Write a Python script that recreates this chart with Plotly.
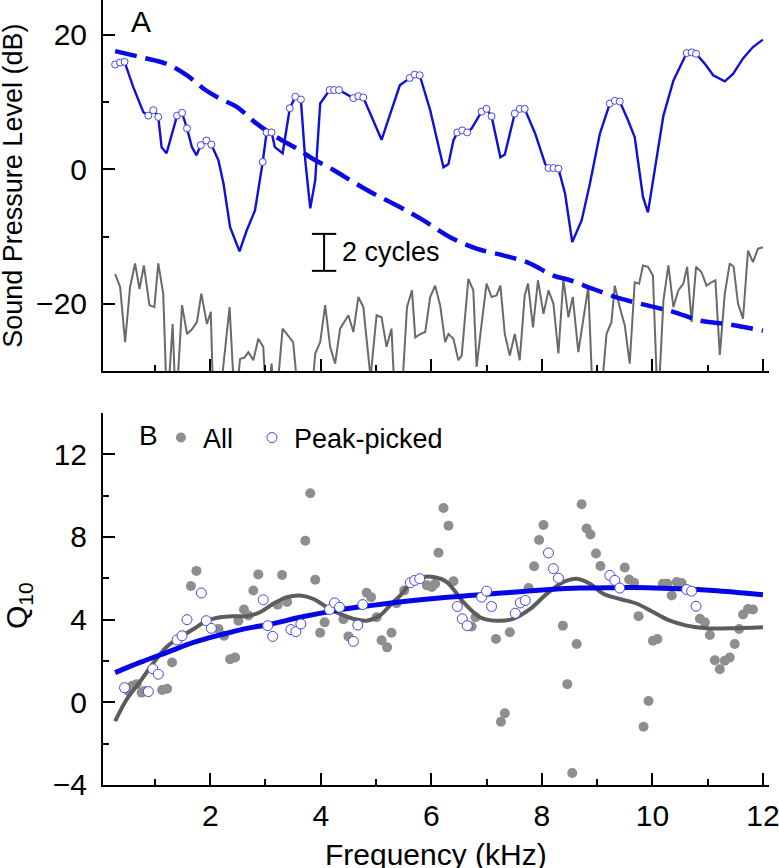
import plotly.graph_objects as go

# ---------------- Panel A data ----------------
freq_a = [0.28, 0.37, 0.45, 0.61, 0.79, 0.88, 0.97, 1.06, 1.12, 1.21, 1.40, 1.49, 1.58, 1.67, 1.75,
          1.83, 1.93, 2.02, 2.15, 2.24, 2.36, 2.53, 2.66, 2.81, 2.95, 3.02, 3.11, 3.17, 3.31, 3.44,
          3.54, 3.64, 3.72, 3.81, 3.90, 3.99, 4.16, 4.24, 4.33, 4.59, 4.68, 4.77, 5.10, 5.43, 5.61,
          5.70, 5.79, 5.98, 6.22, 6.31, 6.40, 6.47, 6.56, 6.65, 6.73, 6.91, 7.00, 7.09, 7.25, 7.33,
          7.51, 7.60, 7.69, 7.88, 8.06, 8.12, 8.21, 8.30, 8.42, 8.55, 8.72, 8.87, 9.05, 9.23, 9.32,
          9.41, 9.56, 9.68, 9.83, 9.92, 10.05, 10.20, 10.38, 10.62, 10.71, 10.79, 10.95, 11.10, 11.31,
          11.46, 11.64, 11.82, 12.00]
spl_a = [15.6, 15.9, 16.0, 12.2, 8.5, 8.0, 8.8, 7.8, 3.3, 2.4, 8.0, 8.4, 6.1, 3.3, 2.1,
         3.6, 4.3, 3.7, 1.3, -2.1, -8.6, -12.2, -9.1, -6.1, 1.1, 5.5, 5.5, 3.3, 2.4, 9.1,
         10.8, 10.4, 1.3, -5.8, -1.6, 9.8, 11.8, 11.8, 11.8, 10.6, 10.9, 10.7, 4.4, 12.5, 13.6,
         14.1, 14.0, 8.8, 0.3, 0.8, 4.3, 5.5, 5.8, 5.5, 6.1, 8.6, 9.0, 7.9, 1.8, 2.2,
         8.3, 9.0, 9.0, 5.3, 0.8, 0.2, 0.2, 0.1, -3.6, -10.8, -7.6, -2.1, 5.3, 9.8, 10.2,
         10.1, 7.3, 4.8, -4.1, -6.4, 0.3, 8.0, 13.2, 17.3, 17.4, 17.2, 15.7, 14.0, 13.1,
         14.2, 16.5, 18.2, 19.3]
peaks_a = [0.28, 0.37, 0.45, 0.88, 0.97, 1.06, 1.40, 1.49, 1.58, 1.83, 1.93, 2.02, 2.95, 3.02, 3.11,
           3.44, 3.54, 3.64, 4.16, 4.24, 4.33, 4.59, 4.68, 4.77, 5.61, 5.70, 5.79, 6.47, 6.56, 6.65,
           6.91, 7.00, 7.09, 7.51, 7.60, 7.69, 8.12, 8.21, 8.30, 9.23, 9.32, 9.41, 10.62, 10.71, 10.79]

freq_fit_a = [0.28, 0.79, 1.21, 1.58, 1.88, 2.18, 2.48, 2.84, 3.20, 3.63, 3.81, 4.23, 4.59, 4.95,
              5.43, 5.86, 6.34, 6.82, 7.30, 7.73, 8.21, 8.51, 8.93, 9.41, 9.89, 10.38, 10.86, 11.34, 12.00]
spl_fit_a = [17.6, 16.6, 15.7, 14.0, 12.0, 10.5, 9.3, 6.8, 4.8, 2.8, 1.8, -0.1, -1.9, -3.6,
             -5.6, -7.6, -10.1, -11.8, -12.8, -13.8, -15.8, -16.5, -17.8, -19.2, -20.2, -21.2, -22.5, -23.0, -24.0]

freq_noise = [0.28, 0.37, 0.46, 0.55, 0.64, 0.72, 0.80, 0.90, 0.99, 1.06, 1.15, 1.22, 1.32, 1.38, 1.49,
              1.58, 1.67, 1.76, 1.84, 1.94, 2.01, 2.06, 2.15, 2.35, 2.45, 2.54, 2.62, 2.69, 2.78, 2.87,
              2.96, 3.02, 3.11, 3.18, 3.31, 3.38, 3.50, 3.62, 3.81, 3.90, 3.99, 4.08, 4.17, 4.26, 4.35,
              4.50, 4.59, 4.68, 4.77, 4.86, 4.90, 5.01, 5.10, 5.19, 5.28, 5.35, 5.45, 5.56, 5.65, 5.71,
              5.80, 5.89, 5.98, 6.07, 6.16, 6.25, 6.31, 6.40, 6.49, 6.55, 6.67, 6.76, 6.82, 6.91, 7.00,
              7.09, 7.18, 7.25, 7.33, 7.42, 7.51, 7.60, 7.69, 7.75, 7.84, 7.93, 8.03, 8.12, 8.21, 8.30,
              8.39, 8.48, 8.56, 8.66, 8.84, 8.93, 9.05, 9.17, 9.26, 9.32, 9.41, 9.50, 9.59, 9.68, 9.76,
              9.83, 9.92, 10.01, 10.10, 10.20, 10.29, 10.38, 10.47, 10.56, 10.63, 10.71, 10.79, 10.89,
              10.98, 11.07, 11.14, 11.22, 11.31, 11.40, 11.47, 11.55, 11.64, 11.73, 11.82, 11.91, 12.00]
noise = [-15.6, -17.5, -25.7, -17.5, -14.0, -17.8, -14.3, -20.2, -20.5, -14.0, -18.5, -36, -23.0, -36, -20.2,
         -24.5, -23.8, -22.7, -18.5, -23.0, -21.2, -36, -36, -20.5, -36, -28.2, -28.0, -27.2, -28.4, -25.2,
         -26.4, -36, -28.9, -36, -23.7, -24.5, -25.7, -36, -36, -27.4, -25.7, -20.2, -26.4, -28.9, -23.7,
         -21.7, -24.2, -19.0, -20.5, -27.7, -31, -21.7, -22.0, -26.4, -23.7, -36, -36, -20.5, -18.0, -25.0,
         -24.5, -24.2, -19.0, -17.3, -20.2, -25.7, -24.5, -25.2, -28.4, -27.7, -16.3, -18.0, -29.4, -23.0, -17.0,
         -19.0, -18.75, -17.3, -24.5, -27.7, -24.5, -28.4, -18.75, -17.0, -23.5, -16.5, -21.5, -18.0, -20.0, -27.4,
         -16.3, -22.0, -19.0, -27.2, -17.5, -36, -36, -24.5, -22.7, -17.3, -20.5, -23.2, -28.9, -16.8, -17.0,
         -14.3, -14.5, -15.8, -36, -19.5, -14.3, -20.5, -18.0, -17.0, -14.5, -22.7, -14.5, -15.3,
         -17.3, -16.8, -16.5, -27.6, -18.5, -14.0, -14.5, -20.0, -22.2, -12.1, -13.8, -11.8, -11.6]

# ---------------- Panel B data ----------------
freq_all = [0.52, 0.59, 0.67, 0.76, 0.81, 1.13, 1.22, 1.31, 1.65, 1.75, 2.15, 2.25, 2.36, 2.45, 2.51,
            2.61, 2.69, 2.78, 2.87, 3.22, 3.30, 3.39, 3.72, 3.81, 3.90, 3.99, 4.07, 4.41, 4.50, 4.83,
            4.91, 5.01, 5.10, 5.20, 5.28, 5.37, 5.51, 5.92, 6.01, 6.07, 6.13, 6.22, 6.31, 6.40, 6.73,
            6.80, 7.17, 7.26, 7.33, 7.42, 7.76, 7.86, 7.95, 8.03, 8.38, 8.46, 8.55, 8.63, 8.72, 8.81,
            8.88, 8.98, 9.06, 9.50, 9.58, 9.67, 9.75, 9.84, 9.93, 10.01, 10.09, 10.19, 10.27, 10.35,
            10.44, 10.53, 10.86, 10.95, 11.04, 11.13, 11.22, 11.31, 11.40, 11.49, 11.57, 11.64, 11.73, 11.82]
q_all = [0.55, 0.80, 0.88, 0.47, 0.55, 0.60, 0.66, 1.93, 5.63, 6.36, 3.55, 3.22, 2.08, 2.17, 3.95,
         4.49, 4.20, 5.41, 6.19, 4.72, 6.16, 4.86, 7.82, 10.12, 5.93, 3.37, 3.87, 4.02, 3.19, 5.30,
         5.09, 4.12, 3.00, 2.66, 3.37, 4.80, 5.41, 5.66, 5.58, 5.74, 7.24, 9.40, 8.54, 5.86, 3.67,
         4.12, 3.06, -0.94, -0.53, 3.39, 5.53, 6.58, 7.85, 8.58, 3.71, 0.88, -3.42, 2.82, 9.58, 8.41,
         8.12, 7.20, 6.60, 6.52, 5.94, 5.79, 4.17, -1.18, 0.06, 2.98, 3.06, 5.74, 5.74, 5.17,
         5.82, 5.77, 4.04, 3.87, 3.26, 2.04, 1.60, 2.01, 2.17, 2.82, 3.55, 4.25, 4.52, 4.49]

freq_peak = [0.45, 0.88, 0.96, 1.06, 1.40, 1.49, 1.58, 1.84, 1.93, 2.02, 2.96, 3.04, 3.13, 3.46, 3.55,
             3.64, 4.16, 4.25, 4.34, 4.59, 4.67, 4.76, 5.62, 5.70, 5.79, 6.47, 6.56, 6.65, 6.91, 7.00,
             7.09, 7.52, 7.61, 7.70, 8.12, 8.21, 8.30, 9.23, 9.32, 9.41, 10.62, 10.71, 10.79]
q_peak = [0.71, 0.52, 1.62, 1.36, 3.02, 3.22, 4.00, 5.29, 3.95, 3.58, 4.96, 3.71, 3.19, 3.52, 3.42,
          3.79, 4.49, 4.81, 4.60, 2.95, 3.74, 4.73, 5.79, 5.90, 5.98, 4.64, 4.04, 3.71, 5.09, 5.38,
          4.64, 4.31, 4.81, 4.93, 7.23, 6.47, 6.01, 6.14, 5.90, 5.53, 5.46, 5.38, 4.65]

freq_fit_all = [0.28, 0.49, 0.73, 0.97, 1.22, 1.46, 1.70, 1.94, 2.18, 2.42, 2.66, 2.90, 3.14, 3.39, 3.63,
                3.87, 4.11, 4.35, 4.59, 4.83, 5.07, 5.25, 5.44, 5.62, 5.86, 6.04, 6.28, 6.58, 6.88, 7.18,
                7.48, 7.79, 8.09, 8.39, 8.63, 8.87, 9.11, 9.41, 9.72, 10.02, 10.32, 10.62, 10.98, 11.40, 12.00]
q_fit_all = [-0.91, 0.15, 1.0, 1.9, 2.7, 3.15, 3.55, 3.95, 4.12, 4.17, 4.17, 4.36, 4.77, 5.09, 5.17,
             5.00, 4.60, 4.28, 4.04, 3.95, 4.20, 4.68, 5.17, 5.74, 6.06, 6.06, 5.82, 4.85, 4.12, 3.95,
             4.04, 4.52, 5.25, 5.82, 5.98, 5.74, 5.25, 5.00, 4.77, 4.36, 3.95, 3.71, 3.58, 3.58, 3.63]

freq_fit_peak = [0.28, 0.73, 1.22, 1.70, 2.18, 2.66, 3.09, 3.69, 4.29, 4.89, 5.50, 6.10, 6.88, 7.48,
                 8.09, 8.69, 9.29, 9.90, 10.50, 11.10, 12.00]
q_fit_peak = [1.44, 1.93, 2.42, 2.90, 3.26, 3.58, 3.78, 4.15, 4.45, 4.68, 4.88, 5.04, 5.20, 5.33,
              5.45, 5.53, 5.55, 5.55, 5.50, 5.41, 5.20]

x_ticks = [2, 4, 6, 8, 10, 12]
x_minor = [1, 3, 5, 7, 9, 11]
ya_ticks = [-20, 0, 20]
ya_minor = [-10, 10]
yb_ticks = [-4, 0, 4, 8, 12]
yb_minor = [-2, 2, 6, 10, 14]

# scale bar ("2 cycles") position in data units of panel A
BAR_X, BAR_Y0, BAR_Y1, BAR_HALF = 4.06, -9.6, -15.1, 0.22

FONT = "Liberation Sans, Arial, sans-serif"
BLUE = "#1010d8"
CIRC = "#4646e0"
PAD = "\u00a0\u2006"

fig = go.Figure()

lookup = dict(zip(freq_a, spl_a))

# Panel A
fig.add_trace(go.Scatter(x=freq_noise, y=noise, mode="lines", line=dict(color="#6a6a6a", width=2),
                         xaxis="x", yaxis="y", showlegend=False, hoverinfo="skip"))
fig.add_trace(go.Scatter(x=freq_fit_a, y=spl_fit_a, mode="lines",
                         line=dict(color="#0a0ae8", width=4.5, dash="22px,9px", shape="spline"),
                         xaxis="x", yaxis="y", showlegend=False))
fig.add_trace(go.Scatter(x=freq_a, y=spl_a, mode="lines", line=dict(color=BLUE, width=2.4),
                         xaxis="x", yaxis="y", showlegend=False))
fig.add_trace(go.Scatter(x=peaks_a, y=[lookup[f] for f in peaks_a], mode="markers",
                         marker=dict(symbol="circle", size=7, color="white", line=dict(color=CIRC, width=1)),
                         xaxis="x", yaxis="y", showlegend=False))

# Panel B
fig.add_trace(go.Scatter(x=freq_all, y=q_all, mode="markers", name="All" + PAD,
                         marker=dict(symbol="circle", size=10, color="#8e8e8e"),
                         xaxis="x2", yaxis="y2"))
fig.add_trace(go.Scatter(x=freq_fit_all, y=q_fit_all, mode="lines",
                         line=dict(color="#5c5c5c", width=4, shape="spline"),
                         xaxis="x2", yaxis="y2", showlegend=False))
fig.add_trace(go.Scatter(x=freq_fit_peak, y=q_fit_peak, mode="lines",
                         line=dict(color="#0505e6", width=5, shape="spline"),
                         xaxis="x2", yaxis="y2", showlegend=False))
fig.add_trace(go.Scatter(x=freq_peak, y=q_peak, mode="markers", name="Peak-picked",
                         marker=dict(symbol="circle", size=10, color="white", line=dict(color=CIRC, width=1)),
                         xaxis="x2", yaxis="y2"))

axis_common = dict(showline=True, linewidth=2, linecolor="black", ticks="inside", ticklen=12,
                   tickwidth=2, tickcolor="black", showgrid=False, zeroline=False, automargin=False,
                   ticklabeloverflow="allow",
                   tickfont=dict(family=FONT, size=30, color="black"))
minor_common = dict(ticks="inside", ticklen=6, tickwidth=2, tickcolor="black")

fig.update_layout(
    width=779, height=868,
    margin=dict(l=103, r=10, t=0, b=83),
    plot_bgcolor="white", paper_bgcolor="white",
    font=dict(family=FONT, color="black"),
    xaxis=dict(domain=[0, 1], range=[0.06, 12.11], anchor="y", tickvals=x_ticks, showticklabels=False,
               minor=dict(tickvals=x_minor, **minor_common), **axis_common),
    yaxis=dict(domain=[0.5274, 1], range=[-30, 25.2], anchor="x", tickvals=ya_ticks,
               ticklabelstandoff=8, minor=dict(tickvals=ya_minor, **minor_common), **axis_common),
    xaxis2=dict(domain=[0, 1], range=[0.06, 12.11], anchor="y2", tickvals=x_ticks,
                ticklabelstandoff=3, minor=dict(tickvals=x_minor, **minor_common), **axis_common),
    yaxis2=dict(domain=[0, 0.4739], range=[-4, 14], anchor="x2", tickvals=yb_ticks,
                ticklabelstandoff=8, minor=dict(tickvals=yb_minor, **minor_common), **axis_common),
    legend=dict(orientation="h", x=0.084, xanchor="left", y=0.442, yanchor="middle",
                font=dict(family=FONT, size=27, color="black"), bgcolor="rgba(0,0,0,0)",
                borderwidth=0, itemwidth=34),
    showlegend=True,
)

ann = [
    dict(text="A", x=0.057, y=0.972, xref="paper", yref="paper", showarrow=False,
         font=dict(size=30), xanchor="center", yanchor="middle"),
    dict(text="B", x=0.0676, y=0.4446, xref="paper", yref="paper", showarrow=False,
         font=dict(size=28), xanchor="center", yanchor="middle"),
    dict(text="2 cycles", x=0.356, y=0.679, xref="paper", yref="paper", showarrow=False,
         font=dict(size=27), xanchor="left", yanchor="middle"),
    dict(text="Sound Pressure Level (dB)", x=-0.1344, y=0.764, xref="paper", yref="paper",
         showarrow=False, textangle=-90, font=dict(size=27), xanchor="center", yanchor="middle"),
    dict(text="Q<sub>10</sub>", x=-0.1276, y=0.228, xref="paper", yref="paper",
         showarrow=False, textangle=-90, font=dict(size=30), xanchor="center", yanchor="middle"),
    dict(text="Frequency (kHz)", x=0.5, y=-0.089, xref="paper", yref="paper", showarrow=False,
         font=dict(size=30), xanchor="center", yanchor="middle"),
]
fig.update_layout(annotations=ann)

# scale bar
for (x0, y0, x1, y1) in [(BAR_X, BAR_Y0, BAR_X, BAR_Y1),
                         (BAR_X - BAR_HALF, BAR_Y0, BAR_X + BAR_HALF, BAR_Y0),
                         (BAR_X - BAR_HALF, BAR_Y1, BAR_X + BAR_HALF, BAR_Y1)]:
    fig.add_shape(type="line", x0=x0, y0=y0, x1=x1, y1=y1, xref="x", yref="y",
                  line=dict(color="black", width=2))

fig.write_html("out.html", config={"displayModeBar": False},
               post_script="document.body.style.margin='0';document.body.style.overflow='hidden';")
